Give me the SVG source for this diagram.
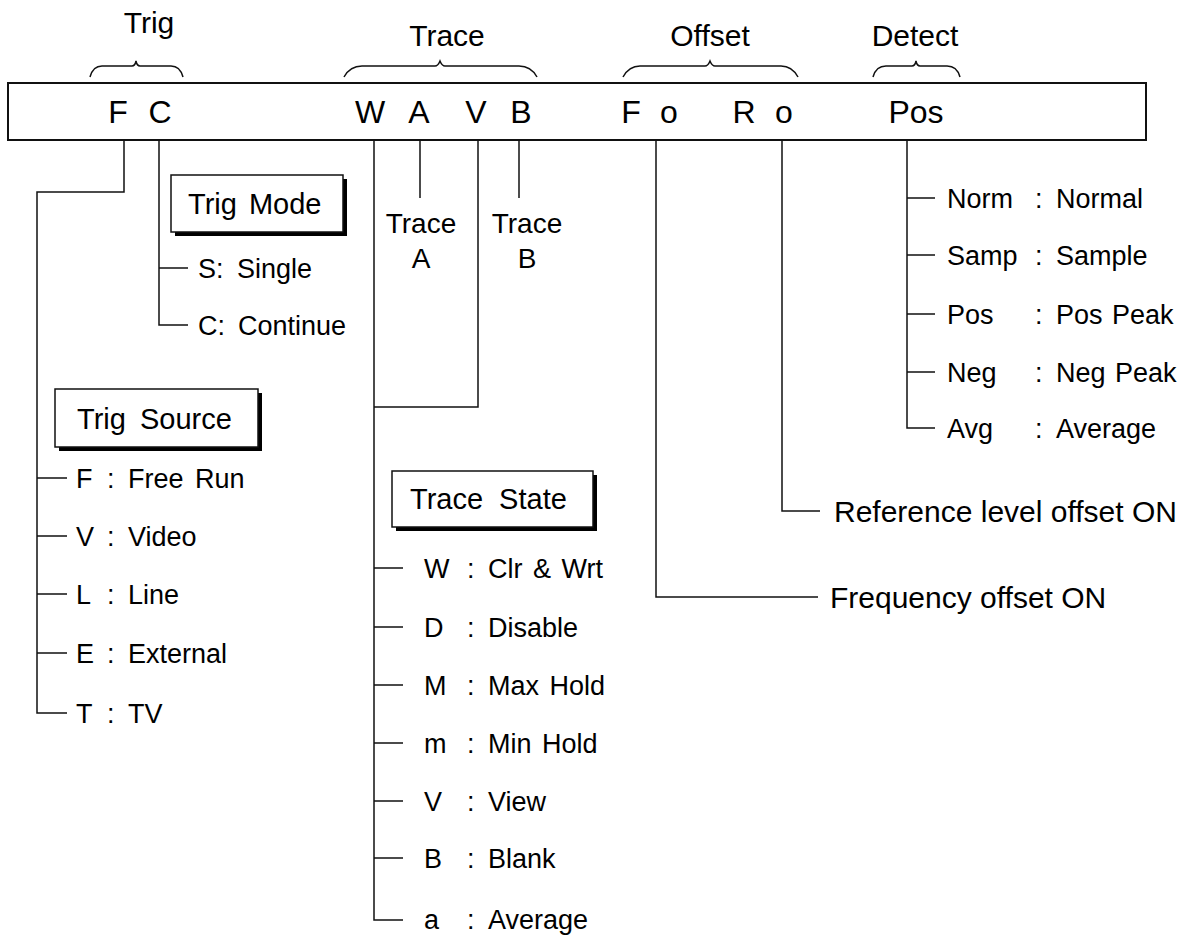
<svg xmlns="http://www.w3.org/2000/svg" width="1190" height="935" viewBox="0 0 1190 935">
<defs>
<style>
text{font-family:"Liberation Sans",Arial,sans-serif;fill:#000}
.hd{font-size:30px;text-anchor:middle}
.bar{font-size:32px;text-anchor:middle}
.bt{font-size:29px}
.it{font-size:27px}
.big{font-size:28px}
.lg{font-size:30px}
.ln{fill:none;stroke:#111;stroke-width:1.5}
.br{fill:none;stroke:#111;stroke-width:1.5}
.box{fill:#fff;stroke:#111;stroke-width:1.5}
.sh{fill:#000}
</style>
</defs>
<rect width="1190" height="935" fill="#fff"/>

<g id="header-labels">
<text class="hd" x="149" y="33">Trig</text>
<text class="hd" x="447" y="46">Trace</text>
<text class="hd" x="710" y="46">Offset</text>
<text class="hd" x="915" y="46">Detect</text>
</g>

<g id="braces">
<path class="br" d="M90,77 Q93,66 102,66 L132,66 Q135,66 136,61 Q137,66 140,66 L171,66 Q180,66 183,77"/>
<path class="br" d="M344,77 Q350,66 362,66 L435,66 Q438,66 440,61 Q442,66 445,66 L519,66 Q531,66 537,77"/>
<path class="br" d="M623,77 Q629,66 640,66 L705,66 Q708,66 710,61 Q712,66 715,66 L781,66 Q792,66 798,77"/>
<path class="br" d="M873,77 Q876,66 886,66 L912,66 Q915,66 916,61 Q917,66 920,66 L947,66 Q957,66 960,77"/>
</g>

<g id="main-bar">
<rect x="8" y="83" width="1138" height="57" fill="#fff" stroke="#111" stroke-width="2"/>
<text class="bar" x="118" y="123">F</text>
<text class="bar" x="160" y="123">C</text>
<text class="bar" x="370" y="123">W</text>
<text class="bar" x="419" y="123">A</text>
<text class="bar" x="476" y="123">V</text>
<text class="bar" x="521" y="123">B</text>
<text class="bar" x="631" y="123">F</text>
<text class="bar" x="669" y="123">o</text>
<text class="bar" x="744" y="123">R</text>
<text class="bar" x="784" y="123">o</text>
<text class="bar" x="916" y="123">Pos</text>
</g>

<g id="connectors">
<path class="ln" d="M124,140 V192 H37 V713 H67"/>
<path class="ln" d="M37,478 H67 M37,536 H67 M37,594 H67 M37,653 H67"/>
<path class="ln" d="M159,140 V325 H188 M159,268 H188"/>
<path class="ln" d="M374,140 V920 H403"/>
<path class="ln" d="M374,568 H403 M374,627 H403 M374,685 H403 M374,743 H403 M374,801 H403 M374,858 H403"/>
<path class="ln" d="M420,140 V198"/>
<path class="ln" d="M478,140 V407 H374"/>
<path class="ln" d="M519,140 V198"/>
<path class="ln" d="M656,140 V597 H818"/>
<path class="ln" d="M782,140 V511 H820"/>
<path class="ln" d="M907,140 V428 H935 M907,198 H935 M907,255 H935 M907,314 H935 M907,372 H935"/>
</g>

<g id="trig-mode">
<rect class="sh" x="175" y="179" width="172" height="57"/>
<rect class="box" x="171" y="175" width="172" height="57"/>
<text class="bt" x="188" y="214" word-spacing="4">Trig Mode</text>
<text class="it" x="198" y="278">S:</text>
<text class="it" x="237" y="278">Single</text>
<text class="it" x="198" y="335">C:</text>
<text class="it" x="238" y="335">Continue</text>
</g>

<g id="trig-source">
<rect class="sh" x="59" y="393" width="203" height="58"/>
<rect class="box" x="55" y="389" width="203" height="58"/>
<text class="bt" x="77" y="429" word-spacing="6">Trig Source</text>
<text class="it" x="76" y="488">F</text><text class="it" x="107" y="488">:</text><text class="it" x="128" y="488" word-spacing="4">Free Run</text>
<text class="it" x="76" y="546">V</text><text class="it" x="107" y="546">:</text><text class="it" x="128" y="546">Video</text>
<text class="it" x="76" y="604">L</text><text class="it" x="107" y="604">:</text><text class="it" x="128" y="604">Line</text>
<text class="it" x="76" y="663">E</text><text class="it" x="107" y="663">:</text><text class="it" x="128" y="663">External</text>
<text class="it" x="76" y="723">T</text><text class="it" x="107" y="723">:</text><text class="it" x="128" y="723">TV</text>
</g>

<g id="trace-a">
<text class="big" x="421" y="233" text-anchor="middle">Trace</text>
<text class="big" x="421" y="268" text-anchor="middle">A</text>
</g>
<g id="trace-b">
<text class="big" x="527" y="233" text-anchor="middle">Trace</text>
<text class="big" x="527" y="268" text-anchor="middle">B</text>
</g>

<g id="trace-state">
<rect class="sh" x="396" y="475" width="201" height="56"/>
<rect class="box" x="392" y="471" width="201" height="56"/>
<text class="bt" x="410" y="509" word-spacing="8">Trace State</text>
<text class="it" x="424" y="578">W</text><text class="it" x="467" y="578">:</text><text class="it" x="488" y="578" word-spacing="3">Clr &amp; Wrt</text>
<text class="it" x="424" y="637">D</text><text class="it" x="467" y="637">:</text><text class="it" x="488" y="637">Disable</text>
<text class="it" x="424" y="695">M</text><text class="it" x="467" y="695">:</text><text class="it" x="488" y="695" word-spacing="3">Max Hold</text>
<text class="it" x="424" y="753">m</text><text class="it" x="467" y="753">:</text><text class="it" x="488" y="753" word-spacing="3">Min Hold</text>
<text class="it" x="424" y="811">V</text><text class="it" x="467" y="811">:</text><text class="it" x="488" y="811">View</text>
<text class="it" x="424" y="868">B</text><text class="it" x="467" y="868">:</text><text class="it" x="488" y="868">Blank</text>
<text class="it" x="424" y="929">a</text><text class="it" x="467" y="929">:</text><text class="it" x="488" y="929">Average</text>
</g>

<g id="offset-labels">
<text class="lg" x="834" y="522">Reference level offset ON</text>
<text class="lg" x="830" y="608">Frequency offset ON</text>
</g>

<g id="detect-modes">
<text class="it" x="947" y="208">Norm</text><text class="it" x="1035" y="208">:</text><text class="it" x="1056" y="208">Normal</text>
<text class="it" x="947" y="265">Samp</text><text class="it" x="1035" y="265">:</text><text class="it" x="1056" y="265">Sample</text>
<text class="it" x="947" y="324">Pos</text><text class="it" x="1035" y="324">:</text><text class="it" x="1056" y="324" word-spacing="2">Pos Peak</text>
<text class="it" x="947" y="382">Neg</text><text class="it" x="1035" y="382">:</text><text class="it" x="1056" y="382" word-spacing="2">Neg Peak</text>
<text class="it" x="947" y="438">Avg</text><text class="it" x="1035" y="438">:</text><text class="it" x="1056" y="438">Average</text>
</g>
</svg>
